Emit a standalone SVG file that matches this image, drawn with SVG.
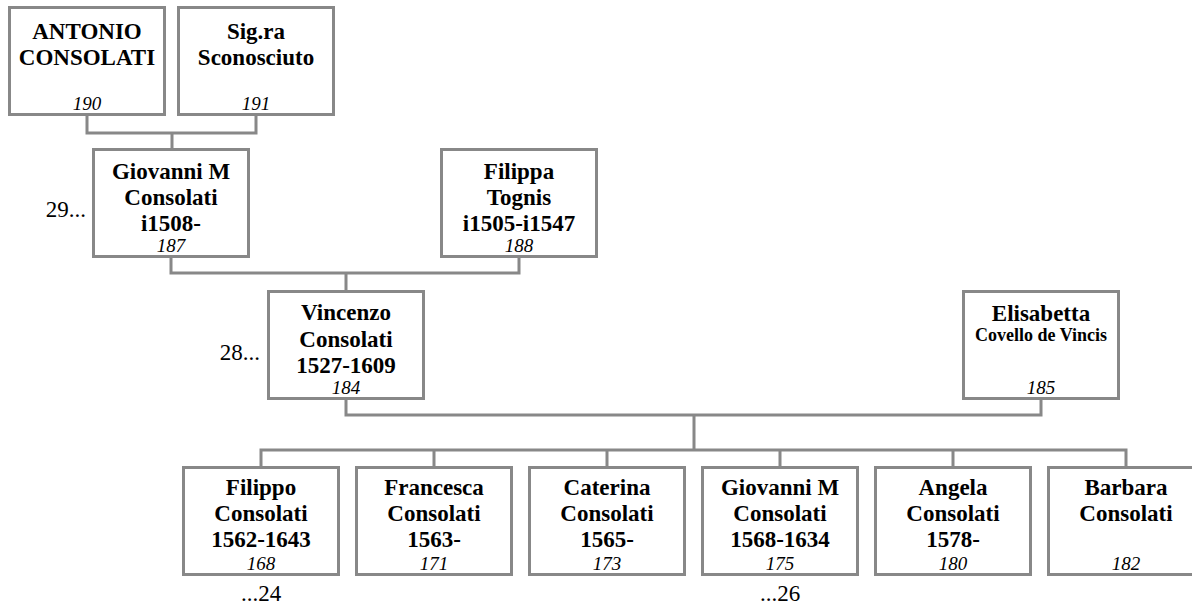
<svg xmlns="http://www.w3.org/2000/svg" width="1192" height="608" viewBox="0 0 1192 608">
<style>
.box{fill:#fff;stroke:#888;stroke-width:3}
.ln{fill:none;stroke:#888;stroke-width:3}
text{fill:#000;text-anchor:middle}
.n{font-size:23px;font-weight:bold}
.s{font-size:18px;font-weight:bold}
.id{font-size:19px;font-style:italic}
.r{font-size:23px}
.e{text-anchor:end}
</style>
<rect width="1192" height="608" fill="#fff"/>
<g id="connectors">
<path class="ln" d="M87,116 V133 H256 V116 M172,133 V148"/>
<path class="ln" d="M171,258 V273 H519 V258 M346,273 V290"/>
<path class="ln" d="M346,400 V415 H1041 V400 M694,415 V450"/>
<path class="ln" d="M261,466 V450 H1126 V466 M434,450 V466 M607,450 V466 M780,450 V466 M953,450 V466"/>
</g>
<g font-family="Liberation Serif, Times New Roman, serif">
<g id="n190"><rect class="box" x="9.5" y="7.5" width="155" height="107"/>
<text class="n" x="87" y="39">ANTONIO</text><text class="n" x="87" y="65">CONSOLATI</text><text class="id" x="87" y="110">190</text></g>
<g id="n191"><rect class="box" x="178.5" y="7.5" width="155" height="107"/>
<text class="n" x="256" y="39">Sig.ra</text><text class="n" x="256" y="65">Sconosciuto</text><text class="id" x="256" y="110">191</text></g>
<g id="n187"><rect class="box" x="93.5" y="149.5" width="155" height="107"/>
<text class="n" x="171" y="179">Giovanni M</text><text class="n" x="171" y="205">Consolati</text><text class="n" x="171" y="231">i1508-</text><text class="id" x="171" y="252">187</text></g>
<text class="r e" x="86" y="217">29...</text>
<g id="n188"><rect class="box" x="441.5" y="149.5" width="155" height="107"/>
<text class="n" x="519" y="179">Filippa</text><text class="n" x="519" y="205">Tognis</text><text class="n" x="519" y="231">i1505-i1547</text><text class="id" x="519" y="252">188</text></g>
<g id="n184"><rect class="box" x="268.5" y="291.5" width="155" height="107"/>
<text class="n" x="346" y="320">Vincenzo</text><text class="n" x="346" y="347">Consolati</text><text class="n" x="346" y="373">1527-1609</text><text class="id" x="346" y="394">184</text></g>
<text class="r e" x="260" y="360">28...</text>
<g id="n185"><rect class="box" x="963.5" y="291.5" width="155" height="107"/>
<text class="n" x="1041" y="321">Elisabetta</text><text class="s" x="1041" y="341">Covello de Vincis</text><text class="id" x="1041" y="394">185</text></g>
<g id="n168"><rect class="box" x="183.5" y="467.5" width="155" height="107"/>
<text class="n" x="261" y="495">Filippo</text><text class="n" x="261" y="521">Consolati</text><text class="n" x="261" y="547">1562-1643</text><text class="id" x="261" y="570">168</text></g>
<text class="r" x="261" y="601">...24</text>
<g id="n171"><rect class="box" x="356.5" y="467.5" width="155" height="107"/>
<text class="n" x="434" y="495">Francesca</text><text class="n" x="434" y="521">Consolati</text><text class="n" x="434" y="547">1563-</text><text class="id" x="434" y="570">171</text></g>
<g id="n173"><rect class="box" x="529.5" y="467.5" width="155" height="107"/>
<text class="n" x="607" y="495">Caterina</text><text class="n" x="607" y="521">Consolati</text><text class="n" x="607" y="547">1565-</text><text class="id" x="607" y="570">173</text></g>
<g id="n175"><rect class="box" x="702.5" y="467.5" width="155" height="107"/>
<text class="n" x="780" y="495">Giovanni M</text><text class="n" x="780" y="521">Consolati</text><text class="n" x="780" y="547">1568-1634</text><text class="id" x="780" y="570">175</text></g>
<text class="r" x="780" y="601">...26</text>
<g id="n180"><rect class="box" x="875.5" y="467.5" width="155" height="107"/>
<text class="n" x="953" y="495">Angela</text><text class="n" x="953" y="521">Consolati</text><text class="n" x="953" y="547">1578-</text><text class="id" x="953" y="570">180</text></g>
<g id="n182"><rect class="box" x="1048.5" y="467.5" width="155" height="107"/>
<text class="n" x="1126" y="495">Barbara</text><text class="n" x="1126" y="521">Consolati</text><text class="id" x="1126" y="570">182</text></g>
</g>
</svg>
